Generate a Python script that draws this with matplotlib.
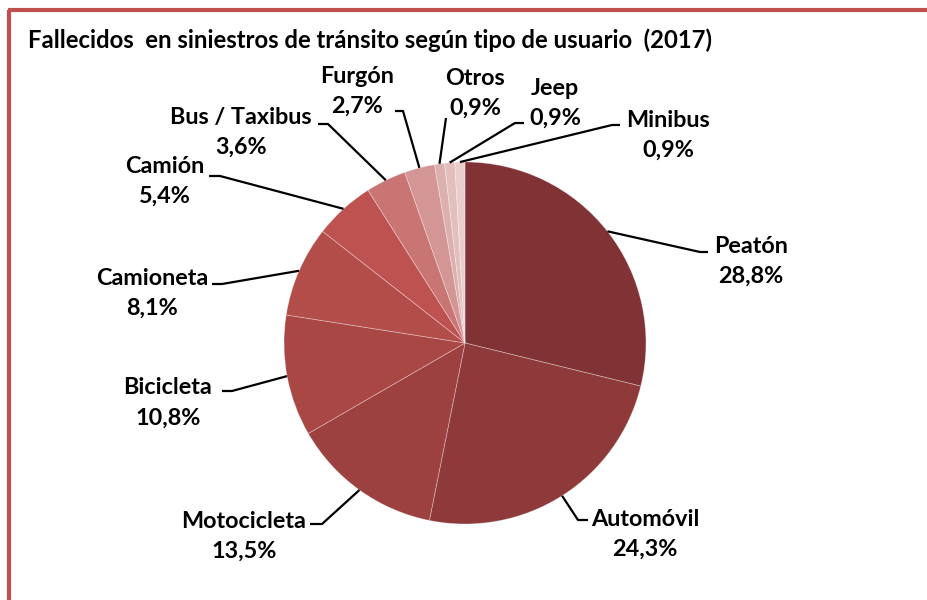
import matplotlib
matplotlib.use("Agg")
import matplotlib.pyplot as plt
import numpy as np

plt.rcParams['font.family'] = ['Lato', 'DejaVu Sans']

categories = ["Peatón", "Automóvil", "Motocicleta", "Bicicleta", "Camioneta",
              "Camión", "Bus / Taxibus", "Furgón", "Otros", "Jeep", "Minibus"]
percentages = [28.8, 24.3, 13.5, 10.8, 8.1, 5.4, 3.6, 2.7, 0.9, 0.9, 0.9]
pct_labels = ["28,8%", "24,3%", "13,5%", "10,8%", "8,1%", "5,4%", "3,6%",
              "2,7%", "0,9%", "0,9%", "0,9%"]
title = "Fallecidos  en siniestros de tránsito según tipo de usuario  (2017)"

colors = ["#803234", "#8E3A3A", "#9C4040", "#A94745", "#B34D4A", "#BE5250",
          "#C87573", "#D39695", "#DCB0AF", "#E2BEBD", "#E9CECE"]

W, H = 928, 600
fig = plt.figure(figsize=(W / 100, H / 100), dpi=100)
ax = fig.add_axes([0, 0, 1, 1])

def Y(y):
    return H - y

cx, cy, R = 465, 343, 181
wedges, _ = ax.pie(percentages, colors=colors, startangle=90, counterclock=False,
                   center=(cx, Y(cy)), radius=R, frame=True,
                   wedgeprops=dict(edgecolor=(1, 1, 1, 0.35), linewidth=0.6))
ax.set_xlim(0, W)
ax.set_ylim(0, H)
ax.set_aspect('equal')
ax.axis('off')

# label layout: text center x, first-line y (image px), leader elbow and end
layout = [
    (751, 246, (700, 252), (708, 252)),
    (645, 519, (578, 520), (588, 520)),
    (244, 521, (322, 524), (310, 524)),
    (168, 388, (232, 391), (222, 391)),
    (152, 278, (222, 284), (212, 284)),
    (165, 166, (220, 176), (209, 176)),
    (241, 117, (328, 124), (318, 124)),
    (357, 76, (403, 111), (395, 111)),
    (475, 78, (446, 118), (446, 118)),
    (555, 88, (515, 123), (524, 123)),
    (668, 120, (612, 125), (620, 125)),
]

for w, cat, pl, (tx, ty, elbow, end) in zip(wedges, categories, pct_labels, layout):
    ang = np.deg2rad((w.theta1 + w.theta2) / 2)
    sx = cx + R * np.cos(ang)
    sy = Y(cy) + R * np.sin(ang)
    ax.plot([sx, elbow[0], end[0]], [sy, Y(elbow[1]), Y(end[1])],
            color='black', lw=1.6, solid_capstyle='butt', zorder=3)
    ax.text(tx, Y(ty), cat, ha='center', va='center', fontsize=16.8,
            fontweight='bold', color='black')
    ax.text(tx, Y(ty + 30), pl, ha='center', va='center', fontsize=16.8,
            fontweight='bold', color='black')

ax.text(28, Y(40), title, ha='left', va='center', fontsize=17.2,
        fontweight='bold', color='black')

# frame
border = "#C0504D"
ax.plot([9.5, 9.5], [Y(600), Y(9.5)], color=border, lw=3, solid_capstyle='butt')
ax.plot([8, 928], [Y(9.5), Y(9.5)], color=border, lw=3, solid_capstyle='butt')

fig.savefig("out.png", dpi=100)
